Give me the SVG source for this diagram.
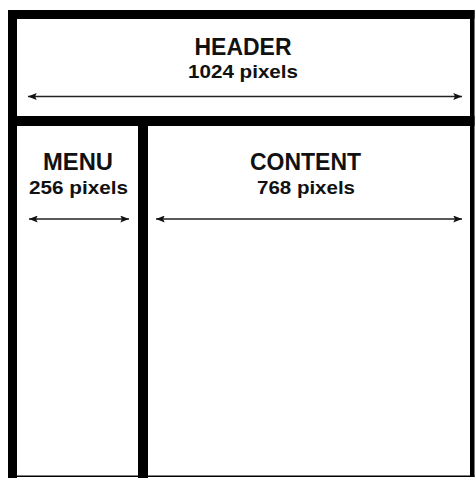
<svg xmlns="http://www.w3.org/2000/svg" width="475" height="478" viewBox="0 0 475 478">
  <style>
    .title { font-family: "Liberation Sans", Arial, sans-serif; font-weight: 700; font-size: 24px; fill: #111; text-anchor: middle; }
    .sub { font-family: "Liberation Sans", Arial, sans-serif; font-weight: 700; font-size: 19px; fill: #111; text-anchor: middle; }
    .frame { fill: #000; }
    .arrow { stroke: #222; stroke-width: 1.4; fill: none; marker-start: url(#ah); marker-end: url(#ah); }
  </style>
  <defs>
    <marker id="ah" viewBox="0 0 10 8" refX="10" refY="4" markerWidth="9" markerHeight="7" markerUnits="userSpaceOnUse" orient="auto-start-reverse">
      <path d="M0,0 L10,4 L0,8 L2,4 z" fill="#111"/>
    </marker>
  </defs>
  <rect x="0" y="0" width="475" height="478" fill="#fff"/>

  <g id="header">
    <rect x="17" y="19" width="453" height="97" fill="#fff"/>
    <text class="title" x="243" y="55" textLength="97" lengthAdjust="spacingAndGlyphs">HEADER</text>
    <text class="sub" x="243" y="78" textLength="110" lengthAdjust="spacingAndGlyphs">1024 pixels</text>
  </g>

  <g id="menu">
    <rect x="17" y="126" width="121" height="350" fill="#fff"/>
    <text class="title" x="78" y="170" textLength="70" lengthAdjust="spacingAndGlyphs">MENU</text>
    <text class="sub" x="78.5" y="194" textLength="99" lengthAdjust="spacingAndGlyphs">256 pixels</text>
  </g>

  <g id="content">
    <rect x="148" y="126" width="322" height="350" fill="#fff"/>
    <text class="title" x="305.5" y="170" textLength="111" lengthAdjust="spacingAndGlyphs">CONTENT</text>
    <text class="sub" x="306" y="194" textLength="98" lengthAdjust="spacingAndGlyphs">768 pixels</text>
  </g>

  <g id="frame">
    <rect class="frame" x="8" y="10" width="466.5" height="9"/>
    <rect class="frame" x="8" y="10" width="9" height="468"/>
    <rect class="frame" x="470" y="10" width="4.5" height="467"/>
    <rect class="frame" x="8" y="116" width="466.5" height="10"/>
    <rect class="frame" x="138" y="116" width="10" height="362"/>
    <rect class="frame" x="8" y="475.5" width="466.5" height="1.5"/>
  </g>

  <g id="connectors">
    <line class="arrow" x1="28" y1="96.5" x2="462" y2="96.5"/>
    <line class="arrow" x1="29" y1="219" x2="129" y2="219"/>
    <line class="arrow" x1="156" y1="219" x2="462" y2="219"/>
  </g>
</svg>
